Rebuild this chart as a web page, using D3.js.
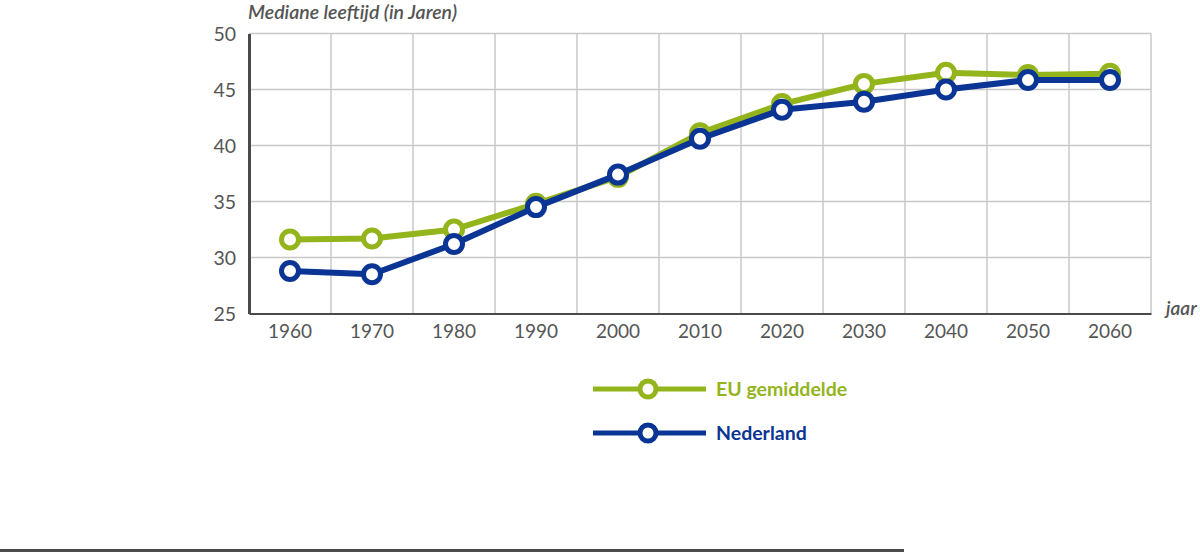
<!DOCTYPE html>
<html lang="nl">
<head>
    <meta charset="UTF-8">
    <title>Mediane leeftijd</title>
    <script src="https://d3js.org/d3.v7.min.js"></script>
    <style>
        body { margin: 0; background: #fff; }
        text { font-family: Lato, "Open Sans", sans-serif; }
    </style>
</head>
<body>
<div id="chart"></div>
<script>
    const years = ["1960", "1970", "1980", "1990", "2000", "2010", "2020", "2030", "2040", "2050", "2060"];
    const euValues = [31.6, 31.7, 32.5, 34.8, 37.2, 41.1, 43.7, 45.5, 46.5, 46.3, 46.4];
    const nlValues = [28.8, 28.5, 31.2, 34.5, 37.4, 40.6, 43.2, 43.9, 45.0, 45.85, 45.85];
    const yTicks = [25, 30, 35, 40, 45, 50];

    const series = [
        {name: "EU gemiddelde", values: euValues, color: "#94b41c"},
        {name: "Nederland", values: nlValues, color: "#0b3594"}
    ];

    function drawChart(width, height) {
        const svg = d3.select("#chart").append("svg")
            .attr("width", width)
            .attr("height", height);

        const left = 249, right = 1151, top = 33.5, bottom = 313.5;

        const x = d3.scaleBand().domain(years).range([left, right]);
        const y = d3.scaleLinear().domain([25, 50]).range([bottom, top]);

        // grid
        const grid = svg.append("g");
        grid.selectAll("line.h")
            .data(yTicks.slice(1))
            .join("line")
            .attr("x1", left).attr("x2", right)
            .attr("y1", d => y(d)).attr("y2", d => y(d))
            .attr("stroke", "#c8c8c8").attr("stroke-width", 1.5);
        grid.selectAll("line.v")
            .data(years)
            .join("line")
            .attr("x1", d => x(d) + x.bandwidth()).attr("x2", d => x(d) + x.bandwidth())
            .attr("y1", top).attr("y2", bottom)
            .attr("stroke", "#c8c8c8").attr("stroke-width", 1.5);

        // axes
        const yAxis = svg.append("g")
            .attr("transform", `translate(${left},0)`)
            .call(d3.axisLeft(y).tickValues(yTicks).tickSize(0).tickPadding(13));
        yAxis.select(".domain").attr("stroke", "#4a4a4a").attr("stroke-width", 3);
        yAxis.selectAll("text").attr("font-size", 19.5).attr("fill", "#555").attr("dy", "0.36em");

        const xAxis = svg.append("g")
            .attr("transform", `translate(0,${bottom})`)
            .call(d3.axisBottom(x).tickSize(0).tickPadding(11));
        xAxis.select(".domain").attr("stroke", "#4a4a4a").attr("stroke-width", 2);
        xAxis.selectAll("text").attr("font-size", 19).attr("fill", "#555");

        svg.append("text")
            .attr("x", left - 1).attr("y", 19)
            .attr("font-size", 19.5).attr("font-style", "italic").attr("font-weight", 600)
            .attr("fill", "#555")
            .text("Mediane leeftijd (in Jaren)");

        svg.append("text")
            .attr("x", 1166).attr("y", 315)
            .attr("font-size", 19).attr("font-style", "italic").attr("font-weight", 600)
            .attr("fill", "#555")
            .text("jaar");

        // lines
        const line = d3.line()
            .x((d, i) => x(years[i]) + x.bandwidth() / 2)
            .y(d => y(d));

        series.forEach(s => {
            const g = svg.append("g");
            g.append("path")
                .attr("d", line(s.values))
                .attr("fill", "none")
                .attr("stroke", s.color)
                .attr("stroke-width", 6)
                .attr("stroke-linejoin", "round");
            g.selectAll("circle")
                .data(s.values)
                .join("circle")
                .attr("cx", (d, i) => x(years[i]) + x.bandwidth() / 2)
                .attr("cy", d => y(d))
                .attr("r", 8.5)
                .attr("fill", "#fff")
                .attr("stroke", s.color)
                .attr("stroke-width", 5);
        });

        // legend
        const legend = svg.append("g");
        series.forEach((s, i) => {
            const ly = 389 + i * 44;
            legend.append("line")
                .attr("x1", 593).attr("x2", 706)
                .attr("y1", ly).attr("y2", ly)
                .attr("stroke", s.color).attr("stroke-width", 5);
            legend.append("circle")
                .attr("cx", 648).attr("cy", ly).attr("r", 8)
                .attr("fill", "#fff")
                .attr("stroke", s.color).attr("stroke-width", 5);
            legend.append("text")
                .attr("x", 716).attr("y", ly + 7)
                .attr("font-size", 19.5).attr("font-weight", 700)
                .attr("fill", s.color)
                .text(s.name);
        });

        // bottom rule
        svg.append("line")
            .attr("x1", 0).attr("x2", 904)
            .attr("y1", 550.5).attr("y2", 550.5)
            .attr("stroke", "#4a4a4a").attr("stroke-width", 3);

        return svg.node();
    }

    document.addEventListener("DOMContentLoaded", () => {
        drawChart(1200, 554);
    });
</script>
</body>
</html>
